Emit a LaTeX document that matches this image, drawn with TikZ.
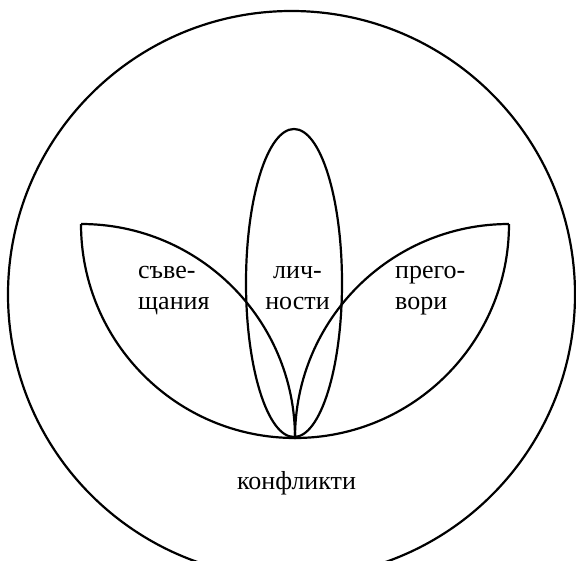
\documentclass[tikz,border=0pt]{standalone}
\usepackage{fontspec}
\setmainfont{Liberation Serif}
\begin{document}
\begin{tikzpicture}[x=1pt,y=1pt,
  outline/.style={draw=black,line width=2.2pt},
  lbl/.style={font=\fontsize{26}{31}\selectfont,inner sep=0pt}]
\useasboundingbox (0,0) rectangle (576,560);
\clip (0,0) rectangle (576,560);
\coordinate (T) at (295,123);
\coordinate (L) at (81,336);
\coordinate (R) at (509,336);
% big circle
\draw[outline] (291.5,265.5) circle[radius=283.5];
% central ellipse
\draw[outline] (294,277) ellipse[x radius=48,y radius=154];
% left leaf
\draw[outline] (L) arc[start angle=180,end angle=270,radius=214]
  arc[start angle=0,end angle=90,radius=214];
% right leaf
\draw[outline] (R) arc[start angle=0,end angle=-90,radius=214]
  arc[start angle=180,end angle=90,radius=214];
% labels
\node[lbl,align=left,anchor=base west] (sav) at (138,250) {съве-\\щания};
\node[lbl,align=center,anchor=base] (lich) at (297.5,250) {лич-\\ности};
\node[lbl,align=left,anchor=base west] (preg) at (395,250) {прего-\\вори};
\node[lbl,anchor=base] (konf) at (296.5,70) {конфликти};
\end{tikzpicture}
\end{document}
